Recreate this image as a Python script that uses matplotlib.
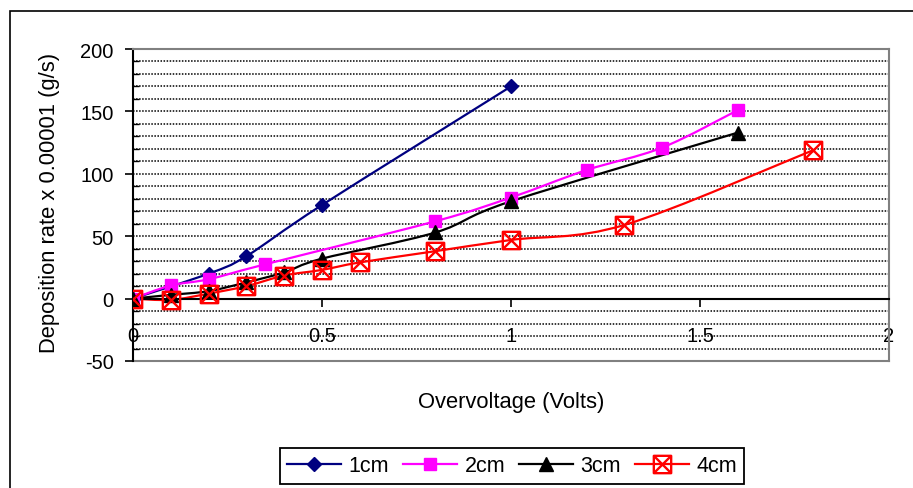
import numpy as np
import matplotlib
matplotlib.use('Agg')
import matplotlib.pyplot as plt
from matplotlib.path import Path
from matplotlib.patches import PathPatch, Rectangle
from matplotlib.lines import Line2D

plt.rcParams['font.family'] = ['Liberation Sans', 'DejaVu Sans']
plt.rcParams['axes.unicode_minus'] = False

# deposition rate (x 0.00001 g/s) against overvoltage (V) for each electrode gap
x_1cm = [0, 0.2, 0.3, 0.5, 1.0]
y_1cm = [0, 20, 34, 75, 170]

x_2cm = [0, 0.1, 0.2, 0.35, 0.8, 1.0, 1.2, 1.4, 1.6]
y_2cm = [0, 10.5, 15.5, 27.5, 62, 81, 103, 121, 151]

x_3cm = [0, 0.1, 0.2, 0.3, 0.4, 0.5, 0.8, 1.0, 1.6]
y_3cm = [0, 3, 6, 13, 21, 32, 53, 78, 133]

x_4cm = [0, 0.1, 0.2, 0.3, 0.4, 0.5, 0.6, 0.8, 1.0, 1.3, 1.8]
y_4cm = [0, -1, 4, 10, 18.5, 23, 29, 38, 47, 59, 119]

labels = ['1cm', '2cm', '3cm', '4cm']
x_ticks = [0, 0.5, 1, 1.5, 2]
x_ticklabels = ['0', '0.5', '1', '1.5', '2']
y_ticks = [-50, 0, 50, 100, 150, 200]


def smooth_path(xs, ys):
    # cubic bezier through every point, spreadsheet-style smoothed line
    pts = np.column_stack([xs, ys]).astype(float)
    n = len(pts)
    verts = [pts[0]]
    codes = [Path.MOVETO]
    for i in range(n - 1):
        p0 = pts[max(i - 1, 0)]
        p1 = pts[i]
        p2 = pts[i + 1]
        p3 = pts[min(i + 2, n - 1)]
        verts += [p1 + (p2 - p0) / 6, p2 - (p3 - p1) / 6, p2]
        codes += [Path.CURVE4] * 3
    return Path(verts, codes)


# open square with a cross inside
box_x = Path([(-1, -1), (1, -1), (1, 1), (-1, 1), (-1, -1),
              (-1, -1), (1, 1), (-1, 1), (1, -1)],
             [Path.MOVETO, Path.LINETO, Path.LINETO, Path.LINETO, Path.CLOSEPOLY,
              Path.MOVETO, Path.LINETO, Path.MOVETO, Path.LINETO])

series = [
    (x_1cm, y_1cm, '#000080', dict(marker='D', ms=7.5, mfc='#000080', mec='#000080')),
    (x_2cm, y_2cm, '#FF00FF', dict(marker='s', ms=9, mfc='#FF00FF', mec='#FF00FF')),
    (x_3cm, y_3cm, 'black', dict(marker='^', ms=10, mfc='black', mec='black')),
    (x_4cm, y_4cm, '#FF0000', dict(marker=box_x, ms=12.5, mfc='none', mec='#FF0000', mew=1.7)),
]

fig = plt.figure(figsize=(9.13, 4.89), dpi=100)
ax = fig.add_axes([133 / 913, 1 - 362 / 489, 756 / 913, 312 / 489])

ax.set_xlim(0, 2)
ax.set_ylim(-50, 200)

# dotted horizontal gridlines every 10
for g in range(-40, 200, 10):
    if g == 0:
        continue
    ax.axhline(g, color='black', lw=1.1, ls=(0, (1, 1)), zorder=0.5)

handles = []
for xs, ys, c, mk in series:
    ax.add_patch(PathPatch(smooth_path(xs, ys), facecolor='none', edgecolor=c,
                           lw=1.6, zorder=2))
    ax.plot(xs, ys, linestyle='none', zorder=3, **mk)
    handles.append(Line2D([], [], color=c, lw=1.6, **mk))

# axes frame: black y axis, x axis through zero, grey plot border
for side in ['top', 'right']:
    ax.spines[side].set_color('#808080')
    ax.spines[side].set_linewidth(1.5)
ax.spines['left'].set_color('black')
ax.spines['left'].set_linewidth(1.5)
ax.spines['bottom'].set_position(('data', 0))
ax.spines['bottom'].set_color('black')
ax.spines['bottom'].set_linewidth(1.5)
ax.axhline(-50, color='#808080', lw=1.5, zorder=1, clip_on=False)

ax.set_xticks(x_ticks)
ax.set_xticklabels(x_ticklabels)
ax.set_yticks(y_ticks)
ax.set_yticks(np.arange(-40, 200, 10), minor=True)
ax.tick_params(axis='x', direction='out', length=6, width=1.2, pad=14,
               labelsize=14.5)
ax.tick_params(axis='y', which='major', direction='out', length=6, width=1.2,
               pad=8, labelsize=14.5)
ax.tick_params(axis='y', which='minor', direction='in', length=4, width=1)

fig.text(50 / 913, 1 - 203 / 489, 'Deposition rate x 0.00001 (g/s)',
         rotation=90, ha='center', va='center', fontsize=15.8)
fig.text(511 / 913, 1 - 403 / 489, 'Overvoltage (Volts)', ha='center',
         va='center', fontsize=15.8)

leg = fig.legend(handles, labels, loc='center', ncol=4,
                 bbox_to_anchor=(512 / 913, 1 - 467 / 489), fontsize=15.5,
                 frameon=True, fancybox=False, edgecolor='black', framealpha=1,
                 handlelength=2.5, handletextpad=0.35, columnspacing=0.65,
                 borderpad=0.35)
leg.get_frame().set_linewidth(1.3)

# outer chart frame, only the top and left edges fall inside the image
fig.add_artist(Rectangle((10 / 913, -0.2), 1.2, 1.2 - 12 / 489,
                         transform=fig.transFigure, fill=False,
                         edgecolor='black', lw=1.2))

fig.savefig('out.png', dpi=100)
